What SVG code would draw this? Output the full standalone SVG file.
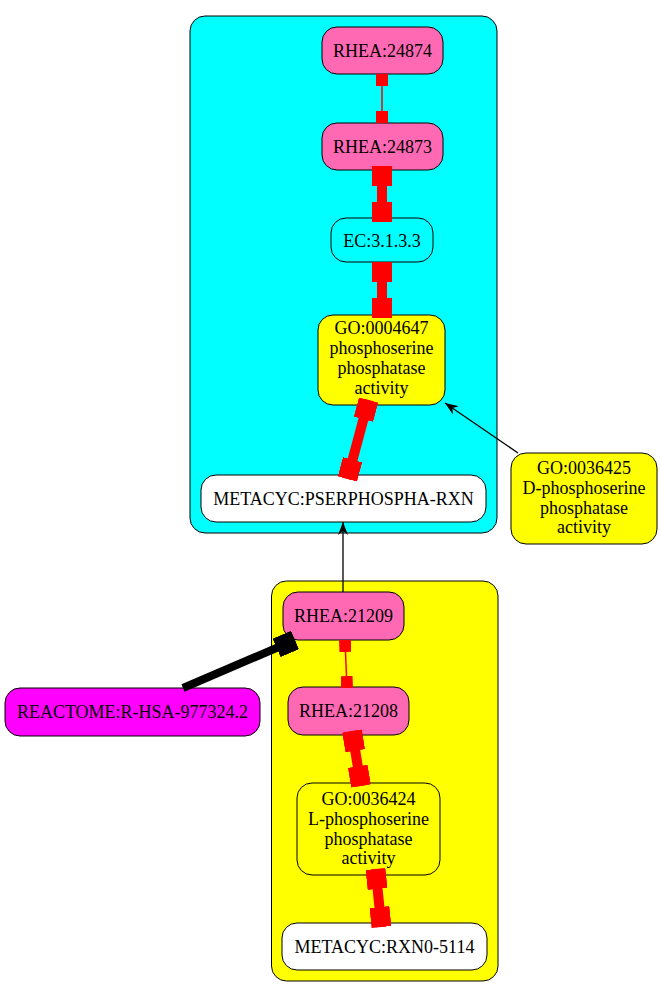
<svg xmlns="http://www.w3.org/2000/svg" width="661" height="997" viewBox="0 0 661 997">
<style>
.cl{stroke:#000;stroke-width:1}
.n rect{stroke:#000;stroke-width:1}
.pink{fill:#ff69b4}.cyan{fill:#00ffff}.yel{fill:#ffff00}.wht{fill:#fff}.mag{fill:#ff00ff}
text{font-family:"Liberation Serif","Times New Roman",serif;font-size:18px;fill:#000;text-anchor:middle}
.rb{stroke:#ff0000;stroke-width:10;fill:none;marker-start:url(#boxL);marker-end:url(#boxL)}
.rs{stroke:#ff0000;stroke-width:1.5;fill:none;marker-start:url(#boxS);marker-end:url(#boxS)}
.bk{stroke:#000;stroke-width:1.3;fill:none;marker-end:url(#vee)}
.bb{stroke:#000;stroke-width:8;fill:none;marker-end:url(#boxB)}
</style>
<defs>
<marker id="boxL" markerUnits="userSpaceOnUse" viewBox="0 0 20 20" markerWidth="20" markerHeight="20" refX="20" refY="10" orient="auto-start-reverse"><rect width="20" height="20" fill="#ff0000"/></marker>
<marker id="boxS" markerUnits="userSpaceOnUse" viewBox="0 0 12 12" markerWidth="12" markerHeight="12" refX="12" refY="6" orient="auto-start-reverse"><rect width="12" height="12" fill="#ff0000"/></marker>
<marker id="boxB" markerUnits="userSpaceOnUse" viewBox="0 0 20 20" markerWidth="20" markerHeight="20" refX="20" refY="10" orient="auto"><rect width="20" height="20" fill="#000"/></marker>
<marker id="vee" markerUnits="userSpaceOnUse" viewBox="0 0 13 10" markerWidth="13" markerHeight="10" refX="13" refY="5" orient="auto"><path d="M0,0 L13,5 L0,10 L4,5 Z" fill="#000"/></marker>
</defs>
<g id="clusters">
<rect id="cluster_top" class="cl cyan" x="190" y="16" width="307" height="517" rx="15"/>
<rect id="cluster_bottom" class="cl yel" x="271.5" y="581" width="226.5" height="400" rx="15"/>
</g>
<g id="n_rhea24874" class="n"><rect class="pink" x="322" y="27" width="121" height="47" rx="15"/><text x="382.5" y="57">RHEA:24874</text></g>
<g id="n_rhea24873" class="n"><rect class="pink" x="322" y="123" width="121" height="47" rx="15"/><text x="382.5" y="153">RHEA:24873</text></g>
<g id="n_ec" class="n"><rect class="cyan" x="331" y="218" width="102" height="44" rx="15"/><text x="382" y="246.5">EC:3.1.3.3</text></g>
<g id="n_go0004647" class="n"><rect class="yel" x="318" y="315" width="127" height="90" rx="15"/><text x="381.5" y="334">GO:0004647</text><text x="381.5" y="354">phosphoserine</text><text x="381.5" y="374">phosphatase</text><text x="381.5" y="394">activity</text></g>
<g id="n_pserphospha" class="n"><rect class="wht" x="201" y="475" width="285" height="47" rx="15"/><text x="343.5" y="505">METACYC:PSERPHOSPHA-RXN</text></g>
<g id="n_go0036425" class="n"><rect class="yel" x="511" y="453" width="146" height="91" rx="15"/><text x="584" y="474">GO:0036425</text><text x="584" y="494">D-phosphoserine</text><text x="584" y="514">phosphatase</text><text x="584" y="533">activity</text></g>
<g id="n_rhea21209" class="n"><rect class="pink" x="283" y="592" width="121" height="48" rx="15"/><text x="343.5" y="622">RHEA:21209</text></g>
<g id="n_rhea21208" class="n"><rect class="pink" x="288" y="687" width="121" height="48" rx="15"/><text x="348.5" y="717">RHEA:21208</text></g>
<g id="n_go0036424" class="n"><rect class="yel" x="297" y="783" width="143" height="92" rx="15"/><text x="368.5" y="805">GO:0036424</text><text x="368.5" y="825">L-phosphoserine</text><text x="368.5" y="845">phosphatase</text><text x="368.5" y="864">activity</text></g>
<g id="n_rxn05114" class="n"><rect class="wht" x="282" y="923" width="205" height="47" rx="15"/><text x="384.5" y="953">METACYC:RXN0-5114</text></g>
<g id="n_reactome" class="n"><rect class="mag" x="5" y="688" width="255" height="48" rx="15"/><text x="132.5" y="718">REACTOME:R-HSA-977324.2</text></g>
<g id="edges">
<path class="rs" d="M382,74 L382,123"/>
<path class="rb" d="M382,166 L382,222"/>
<path class="rb" d="M382,262 L382,318"/>
<path class="rb" d="M368.6,400 L347.4,479"/>
<path class="rs" d="M345,640 L347,688"/>
<path class="rb" d="M352,731 L361,786"/>
<path class="rb" d="M375.5,869 L381.5,927"/>
<path class="bk" d="M343,592 L343,522"/>
<path class="bk" d="M518,453 L445,403"/>
<path class="bb" d="M183,688 L295,640"/>
</g>
</svg>
